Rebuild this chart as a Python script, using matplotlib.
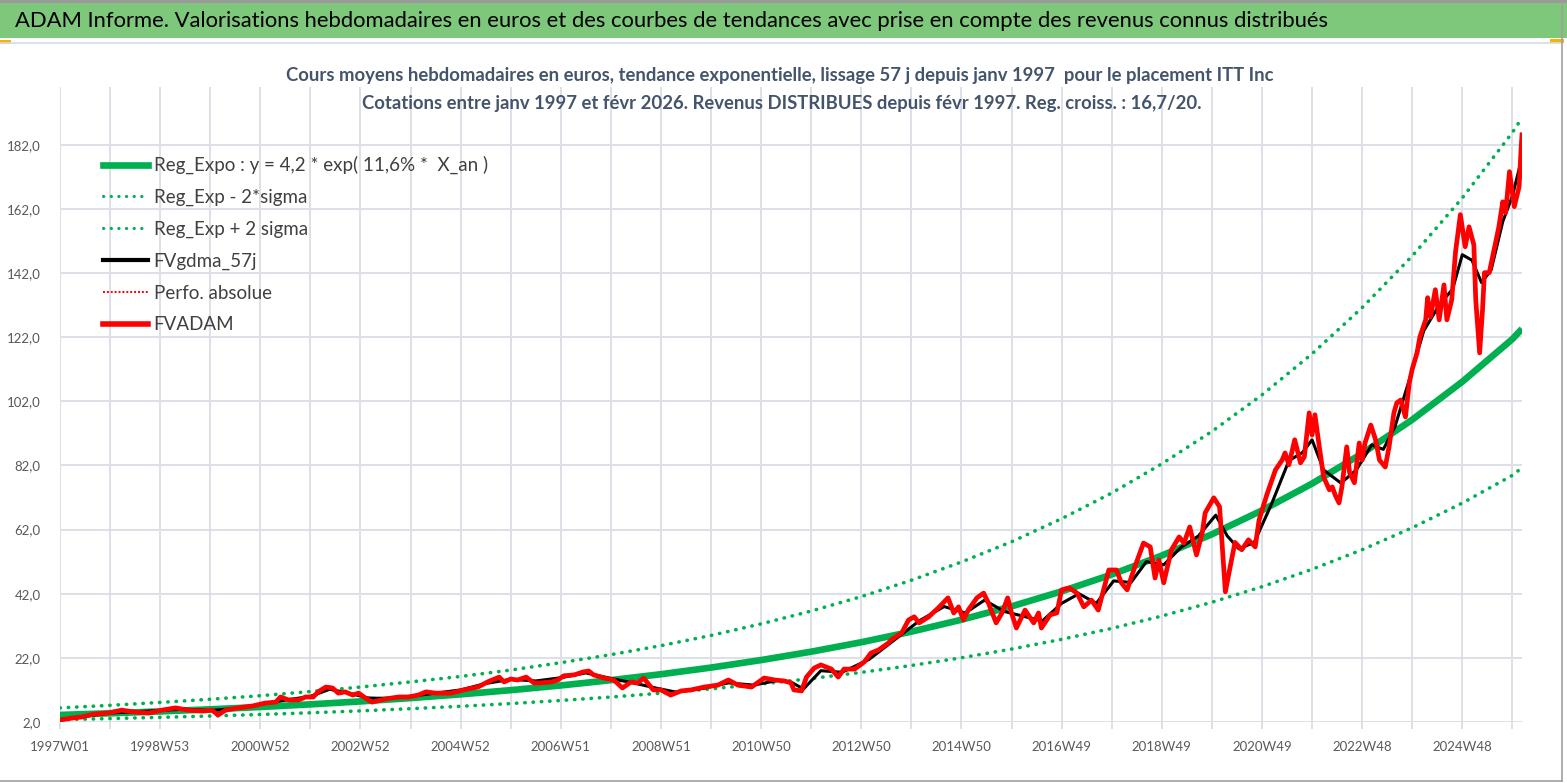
import numpy as np
import matplotlib
matplotlib.use('Agg')
import matplotlib.pyplot as plt
from matplotlib.lines import Line2D
from matplotlib.patches import Rectangle

plt.rcParams['font.family'] = ['Lato', 'DejaVu Sans']

# x labels (week index 0 = 1997W01, one label every 104 weeks)
x_labels = ['1997W01', '1998W53', '2000W52', '2002W52', '2004W52', '2006W51', '2008W51',
            '2010W50', '2012W50', '2014W50', '2016W49', '2018W49', '2020W49', '2022W48', '2024W48']
y_ticks = [2, 22, 42, 62, 82, 102, 122, 142, 162, 182]
n_weeks = 1519

# exponential trend and +/- 2 sigma bands, read once a year
trend_weeks = list(range(0, 1509, 52)) + [1518]
reg_expo = [4.20, 4.72, 5.30, 5.95, 6.68, 7.50, 8.42, 9.46, 10.62, 11.93, 13.40, 15.05, 16.90,
            18.97, 21.31, 23.93, 26.87, 30.18, 33.89, 38.06, 42.74, 47.99, 53.90, 60.53, 67.97,
            76.33, 85.72, 96.26, 108.10, 121.40, 124.6]
reg_plus = [6.4, 7.2, 8.1, 9.1, 10.2, 11.5, 12.9, 14.5, 16.2, 18.2, 20.5, 23.0, 25.8, 29.0,
            32.6, 36.6, 41.1, 46.2, 51.9, 58.2, 65.4, 73.4, 82.5, 92.6, 104.0, 116.8, 131.2,
            147.3, 165.4, 185.8, 190.4]
reg_minus = [2.73, 3.07, 3.45, 3.87, 4.34, 4.88, 5.47, 6.15, 6.90, 7.75, 8.71, 9.78, 10.99,
             12.33, 13.85, 15.55, 17.47, 19.62, 22.03, 24.74, 27.78, 31.19, 35.04, 39.34, 44.18,
             49.61, 55.72, 62.57, 70.27, 78.91, 81.3]

# FVADAM weekly valuation
adam_weeks = [0, 12, 23, 36, 50, 64, 78, 92, 106, 120, 133, 148, 158, 164, 172, 185, 200, 213,
              224, 229, 237, 248, 255, 263, 268, 276, 283, 289, 296, 304, 310, 317, 324, 338,
              352, 362, 372, 380, 390, 400, 406, 419, 434, 444, 456, 461, 468, 475, 484, 492,
              499, 510, 517, 523, 534, 543, 549, 554, 565, 575, 584, 593, 600, 606, 616, 624,
              634, 645, 655, 669, 683, 694, 704, 718, 731, 742, 752, 759, 762, 770, 775, 783,
              790, 801, 808, 814, 825, 835, 842, 850, 860, 863, 874, 881, 887, 892, 902, 912,
              922, 928, 933, 938, 943, 952, 959, 964, 972, 978, 984, 988, 993, 1002, 1011, 1016,
              1019, 1028, 1035, 1040, 1048, 1056, 1063, 1071, 1078, 1089, 1097, 1102, 1108,
              1116, 1125, 1132, 1137, 1141, 1146, 1154, 1162, 1167, 1173, 1180, 1186, 1189,
              1198, 1204, 1210, 1215, 1220, 1227, 1234, 1241, 1245, 1253, 1262, 1269, 1272,
              1276, 1282, 1288, 1292, 1297, 1300, 1303, 1307, 1312, 1318, 1321, 1324, 1328,
              1331, 1336, 1339, 1344, 1349, 1352, 1355, 1361, 1366, 1370, 1376, 1380, 1385,
              1388, 1392, 1397, 1401, 1404, 1409, 1412, 1418, 1420, 1423, 1428, 1432, 1437,
              1440, 1445, 1449, 1454, 1459, 1463, 1468, 1470, 1474, 1477, 1479, 1484, 1489,
              1494, 1498, 1501, 1505, 1510, 1515, 1517, 1518]
adam_vals = [2.6, 3.2, 3.6, 4.5, 4.8, 5.7, 5.1, 4.8, 5.7, 6.4, 5.7, 5.4, 5.7, 4.2, 5.7, 6.4, 7.0,
             7.9, 8.2, 9.8, 8.9, 8.9, 9.8, 9.8, 11.4, 12.9, 12.6, 11.0, 11.4, 10.4, 11.0, 9.5, 8.2,
             9.2, 9.8, 9.8, 10.4, 11.4, 11.0, 11.0, 11.0, 12.0, 12.9, 14.5, 16.0, 14.5, 15.4,
             15.1, 16.0, 14.2, 14.2, 14.5, 15.1, 16.4, 16.7, 17.6, 17.9, 16.7, 15.7, 15.1, 12.6,
             14.5, 14.2, 15.7, 12.0, 12.0, 10.4, 11.7, 12.0, 12.9, 13.5, 15.1, 13.5, 12.9, 15.7,
             15.1, 14.8, 14.2, 12.0, 11.7, 16.0, 18.8, 19.8, 18.5, 16.0, 18.5, 18.5, 20.7, 23.5,
             24.5, 26.6, 27.6, 29.8, 33.8, 34.8, 32.9, 34.8, 37.6, 40.7, 36.0, 37.9, 33.8, 36.9,
             40.7, 42.2, 39.1, 32.9, 36.0, 40.7, 36.0, 31.3, 36.9, 32.9, 36.0, 31.3, 35.4, 36.0,
             43.2, 43.8, 42.2, 37.9, 40.0, 36.9, 49.4, 49.4, 45.4, 43.2, 50.4, 57.8, 56.6, 46.9,
             52.5, 45.4, 55.7, 59.7, 57.8, 62.8, 54.1, 61.0, 67.2, 71.9, 69.1, 42.6, 50.4, 58.0,
             55.7, 58.8, 56.6, 65.0, 72.8, 80.6, 83.7, 85.9, 82.2, 90.0, 82.8, 84.7, 98.4, 91.5,
             97.8, 89.0, 78.4, 74.4, 75.3, 72.8, 70.3, 75.3, 87.8, 79.7, 76.6, 89.0, 83.7, 89.0,
             94.6, 90.0, 83.7, 81.5, 87.8, 98.4, 101.5, 102.4, 97.1, 107.8, 112.0, 117.1, 122.1,
             127.4, 134.3, 128.3, 136.8, 127.4, 138.3, 127.4, 133.6, 148.6, 160.2, 150.2, 156.4,
             150.8, 133.6, 117.1, 130.5, 142.1, 142.1, 149.2, 156.4, 164.2, 160.8, 173.6, 162.7,
             168.9, 180.4, 185.1]

# FVgdma_57j smoothed curve
gdma_weeks = [0, 26, 52, 78, 104, 130, 156, 182, 208, 234, 260, 280, 300, 320, 340, 364, 390,
              416, 442, 468, 494, 520, 546, 572, 598, 620, 640, 668, 694, 720, 746, 760, 772,
              790, 812, 840, 866, 892, 918, 940, 960, 980, 1000, 1020, 1040, 1058, 1076, 1094,
              1112, 1128, 1146, 1164, 1182, 1200, 1212, 1224, 1240, 1258, 1276, 1290, 1300,
              1312, 1330, 1346, 1362, 1374, 1386, 1401, 1416, 1432, 1446, 1456, 1466, 1476,
              1486, 1498, 1508, 1518]
gdma_vals = [2.8, 3.8, 4.8, 5.2, 5.6, 6.0, 5.6, 6.2, 7.5, 8.8, 10.0, 12.2, 11.0, 9.5, 9.3, 10.0,
             11.0, 12.0, 14.0, 15.3, 14.8, 15.8, 17.3, 15.6, 14.0, 12.5, 11.3, 12.5, 14.2, 13.5,
             15.0, 14.3, 12.3, 18.0, 17.5, 21.5, 27.5, 33.5, 38.0, 36.0, 40.0, 36.5, 35.0, 33.5,
             39.0, 42.0, 39.0, 46.0, 45.5, 52.0, 51.0, 56.5, 60.0, 66.5, 60.0, 56.0, 58.0, 70.0,
             83.5, 86.0, 90.0, 80.6, 76.5, 80.6, 88.4, 87.0, 94.0, 108.7, 124.0, 132.0, 137.0,
             147.7, 146.0, 139.0, 143.0, 158.0, 166.0, 178.0]

W, H = 1567, 783
fig = plt.figure(figsize=(W / 100, H / 100), dpi=100)

# header band and frame
fig.patches.append(Rectangle((0, 1 - 38 / H), 1, 35 / H, transform=fig.transFigure,
                             facecolor='#7DC87A', edgecolor='none'))
fig.patches.append(Rectangle((0, 1 - 3 / H), 1, 3 / H, transform=fig.transFigure,
                             facecolor='#9A9A9A', edgecolor='none'))
fig.patches.append(Rectangle((0, 1 - 44 / H), 11 / W, 4 / H, transform=fig.transFigure,
                             facecolor='#F2B600', edgecolor='none'))
fig.patches.append(Rectangle((1550 / W, 1 - 43 / H), 14 / W, 4 / H, transform=fig.transFigure,
                             facecolor='#F2B600', edgecolor='none'))
fig.lines.append(Line2D([0, 1562 / W], [1 - 43 / H, 1 - 43 / H],
                        transform=fig.transFigure, color='#D8DCE2', lw=1.2))
fig.lines.append(Line2D([1562 / W, 1562 / W], [1 - 3 / H, 1 - 781 / H],
                        transform=fig.transFigure, color='#A0A0A0', lw=1.2))
fig.lines.append(Line2D([0, 1562 / W], [1 - 781 / H, 1 - 781 / H],
                        transform=fig.transFigure, color='#A0A0A0', lw=1.2))
fig.text(15 / W, 1 - 21 / H,
         'ADAM Informe. Valorisations hebdomadaires en euros et des courbes de tendances '
         'avec prise en compte des revenus connus distribués',
         fontsize=15.8, color='black', va='center', ha='left')

ax = fig.add_axes([60 / W, 1 - 722 / H, (1522 - 60) / W, (722 - 87) / H])
ax.set_xlim(0, n_weeks - 1)
ax.set_ylim(2, 200)

grid_col = '#DDE0E6'
ax.set_yticks(y_ticks)
ax.set_yticklabels([f'{v:.1f}'.replace('.', ',') for v in y_ticks])
ax.set_xticks(range(0, n_weeks, 52))
ax.set_xticklabels([x_labels[i // 2] if i % 2 == 0 else '' for i in range(len(range(0, n_weeks, 52)))])
ax.grid(True, color=grid_col, lw=1.4)
ax.set_axisbelow(True)
for s in ax.spines.values():
    s.set_visible(False)
ax.tick_params(axis='y', length=0, pad=14, labelsize=9.5, labelcolor='#595959')
ax.tick_params(axis='x', length=5, width=1.4, color=grid_col, pad=9, labelsize=9.5,
               labelcolor='#595959')

dot = (0, (0.1, 2.2))
ax.plot(trend_weeks, reg_expo, color='#00B050', lw=4.8, solid_capstyle='butt',
        label='Reg_Expo : y = 4,2 * exp( 11,6% *  X_an )')
ax.plot(trend_weeks, reg_minus, color='#00B050', lw=2.6, ls=dot, dash_capstyle='round',
        label='Reg_Exp - 2*sigma')
ax.plot(trend_weeks, reg_plus, color='#00B050', lw=2.6, ls=dot, dash_capstyle='round',
        label='Reg_Exp + 2 sigma')
ax.plot(gdma_weeks, gdma_vals, color='black', lw=2.2, label='FVgdma_57j')
ax.plot(adam_weeks, adam_vals, color='#FF0000', lw=1.2, ls=(0, (1, 1)), label='Perfo. absolue')
ax.plot(adam_weeks, adam_vals, color='#FF0000', lw=3.4, solid_joinstyle='round',
        label='FVADAM')

handles, labels = ax.get_legend_handles_labels()
leg_handles = [Line2D([], [], color='#00B050', lw=4.8),
               Line2D([], [], color='#00B050', lw=2.2, ls=(0, (0.1, 2.4)), dash_capstyle='round'),
               Line2D([], [], color='#00B050', lw=2.2, ls=(0, (0.1, 2.4)), dash_capstyle='round'),
               Line2D([], [], color='black', lw=3),
               Line2D([], [], color='#FF0000', lw=1.4, ls=(0, (1, 1))),
               Line2D([], [], color='#FF0000', lw=4)]
leg = fig.legend(leg_handles, labels, loc='upper left', bbox_to_anchor=(103 / W, 1 - 156 / H),
                 frameon=False, fontsize=13.5, handlelength=2.4, handletextpad=0.3,
                 labelspacing=0.78, borderpad=0, borderaxespad=0)
for t in leg.get_texts():
    t.set_color('#404040')

fig.text(780 / W, 1 - 75 / H,
         'Cours moyens hebdomadaires en euros, tendance exponentielle, lissage 57 j depuis janv 1997  '
         'pour le placement ITT Inc', ha='center', va='center', fontsize=13.35, fontweight='bold',
         color='#44546A')
fig.text(782 / W, 1 - 103 / H,
         'Cotations entre janv 1997 et févr 2026. Revenus DISTRIBUES depuis févr 1997. '
         'Reg. croiss. : 16,7/20.', ha='center', va='center', fontsize=13.35, fontweight='bold',
         color='#44546A')

fig.savefig('out.png', dpi=100)
